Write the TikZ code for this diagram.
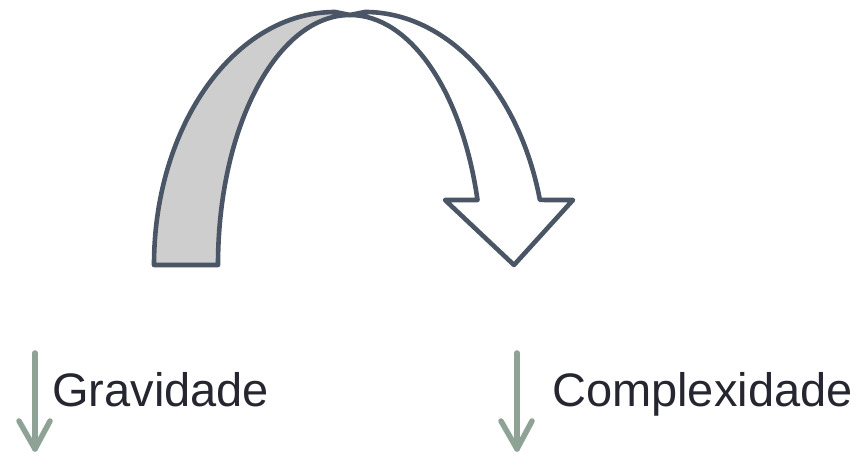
\documentclass[tikz,border=0pt]{standalone}
\usepackage{fontspec}
\setmainfont{Liberation Sans}
\definecolor{edge}{RGB}{74,86,101}
\definecolor{band}{RGB}{206,206,206}
\definecolor{sage}{RGB}{143,162,150}
\definecolor{ink}{RGB}{38,38,48}
\tikzset{
  shapeline/.style={draw=edge, line width=4.6pt, line join=round, line cap=round},
  downarrow/.style={draw=sage, line width=5.5pt, line cap=round, line join=round},
  label/.style={font=\fontsize{47}{56}\selectfont, text=ink, inner sep=0pt, anchor=base west}
}
\begin{document}
\begin{tikzpicture}[x=1pt,y=1pt]
\useasboundingbox (0,0) rectangle (859,454);
% back (grey) band
\path[shapeline, fill=band] (154,189) arc[start angle=180, end angle=90, x radius=181, y radius=253]
  -- (350,439) arc[start angle=90, end angle=180, x radius=132, y radius=250] -- cycle;
% front (white) band with arrow head
\path[shapeline, fill=white] (350,439) -- (365,442)
  arc[start angle=90, end angle=14.9, x radius=181, y radius=253]
  -- (573,254) -- (514,189) -- (445,254) -- (477.5,254)
  arc[start angle=15.07, end angle=90, x radius=132, y radius=250] -- cycle;
% left down arrow
\coordinate (g1) at (35,101);
\coordinate (g2) at (35,5);
\coordinate (gl) at (19,33);
\coordinate (gr) at (50,33);
\draw[downarrow] (g1) -- (g2);
\draw[downarrow] (gl) -- (g2) -- (gr);
\node[label] (grav) at (52,47) {Gravidade};
% right down arrow
\coordinate (c1) at (517,101);
\coordinate (c2) at (517,5);
\coordinate (cl) at (501,33);
\coordinate (cr) at (532,33);
\draw[downarrow] (c1) -- (c2);
\draw[downarrow] (cl) -- (c2) -- (cr);
\node[label] (comp) at (552,47) {Complexidade};
\end{tikzpicture}
\end{document}
